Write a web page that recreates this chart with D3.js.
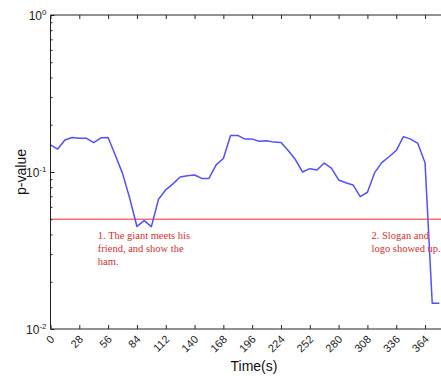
<!DOCTYPE html>
<html>
<head>
<meta charset="utf-8">
<script src="https://cdn.jsdelivr.net/npm/d3@7"></script>
<style>
  body { margin: 0; background: #fff; }
  svg { display: block; }
</style>
</head>
<body>
<div id="vis-holder"></div>
<script>
// Chart size and plot box
const width = 441;
const height = 376;
const margin = { top: 15, right: 0, bottom: 47, left: 50.5 };

// Data: time (s) and p-value
const times = [0, 7, 14, 21, 28, 35, 42, 49, 56, 63, 70, 77, 84, 91, 98, 105, 112, 119, 126, 133,
  140, 147, 154, 161, 168, 175, 182, 189, 196, 203, 210, 217, 224, 231, 238, 245, 252, 259, 266,
  273, 280, 287, 294, 301, 308, 315, 322, 329, 336, 343, 350, 357, 364, 371, 378];
const pValues = [0.149, 0.140, 0.160, 0.166, 0.164, 0.164, 0.154, 0.165, 0.166, 0.128, 0.098,
  0.068, 0.045, 0.049, 0.0449, 0.067, 0.077, 0.084, 0.093, 0.0945, 0.0957, 0.091, 0.091, 0.111,
  0.122, 0.171, 0.171, 0.162, 0.162, 0.157, 0.158, 0.155, 0.154, 0.137, 0.120, 0.100, 0.105,
  0.103, 0.114, 0.106, 0.089, 0.0855, 0.0827, 0.0697, 0.0743, 0.099, 0.1147, 0.125, 0.137,
  0.168, 0.162, 0.152, 0.1147, 0.0146, 0.0146];

const xTicks = [0, 28, 56, 84, 112, 140, 168, 196, 224, 252, 280, 308, 336, 364];
const yTicks = [0.01, 0.1, 1];
const yTickExp = ["-2", "-1", "0"];
const threshold = 0.05;

const notes = [
  { t: 46, lines: ["1. The giant meets his", "friend, and show the", "ham."] },
  { t: 312, lines: ["2. Slogan and", "logo showed up."] }
];

const svg = d3.select("#vis-holder")
  .append("svg")
  .attr("width", width)
  .attr("height", height);

const x = d3.scaleLinear()
  .domain([0, 380])
  .range([margin.left, width - margin.right + 0.5]);

const y = d3.scaleLog()
  .domain([0.01, 1])
  .range([height - margin.bottom, margin.top]);

const x0 = x.range()[0], x1 = x.range()[1];
const y0 = y.range()[0], y1 = y.range()[1];

// clip to the plot box
svg.append("clipPath").attr("id", "plotclip")
  .append("rect")
  .attr("x", x0).attr("y", y1)
  .attr("width", x1 - x0).attr("height", y0 - y1);

const plot = svg.append("g").attr("clip-path", "url(#plotclip)");

// significance line
plot.append("line")
  .attr("x1", x0).attr("x2", x1)
  .attr("y1", y(threshold)).attr("y2", y(threshold))
  .attr("stroke", "#ff6e6e")
  .attr("stroke-width", 1.7);

// p-value line
const line = d3.line()
  .x((d, i) => x(times[i]))
  .y((d) => y(d));

plot.append("path")
  .datum(pValues)
  .attr("d", line)
  .attr("fill", "none")
  .attr("stroke", "#5050ff")
  .attr("stroke-width", 1.5)
  .attr("stroke-linejoin", "round");

// annotations
notes.forEach((n) => {
  const txt = svg.append("text")
    .attr("x", x(n.t))
    .attr("y", y(threshold) + 20)
    .attr("fill", "#d03030")
    .attr("font-family", "'Liberation Serif', 'DejaVu Serif', serif")
    .attr("font-size", "10.5px");
  n.lines.forEach((l, i) => {
    txt.append("tspan")
      .attr("x", x(n.t))
      .attr("dy", i === 0 ? 0 : 13)
      .text(l);
  });
});

// axes, ticks pointing inward
const axisColor = "#222";
const fontSans = "'Liberation Sans', Arial, sans-serif";

// bottom axis
const gx = svg.append("g")
  .attr("transform", `translate(0,${y0})`)
  .call(d3.axisBottom(x).tickValues(xTicks).tickSizeInner(-4).tickSizeOuter(0));
gx.select(".domain").remove();
gx.selectAll("line").attr("stroke", axisColor);
gx.selectAll("text")
  .attr("font-family", fontSans)
  .attr("font-size", "11px")
  .attr("fill", "#222")
  .attr("text-anchor", "end")
  .attr("x", 0).attr("y", 0).attr("dy", 0)
  .attr("transform", "translate(4,11) rotate(-45)");

// top ticks
const gt = svg.append("g")
  .attr("transform", `translate(0,${y1})`)
  .call(d3.axisTop(x).tickValues(xTicks).tickSizeInner(-4).tickSizeOuter(0).tickFormat(""));
gt.select(".domain").remove();
gt.selectAll("line").attr("stroke", axisColor);

// left axis with minor ticks
const minor = [];
[0.01, 0.1].forEach((b) => { for (let k = 2; k <= 9; k++) minor.push(b * k); });

const gyMinor = svg.append("g")
  .attr("transform", `translate(${x0},0)`)
  .call(d3.axisLeft(y).tickValues(minor).tickSizeInner(-2).tickSizeOuter(0).tickFormat(""));
gyMinor.select(".domain").remove();
gyMinor.selectAll("line").attr("stroke", axisColor);

const gy = svg.append("g")
  .attr("transform", `translate(${x0},0)`)
  .call(d3.axisLeft(y).tickValues(yTicks).tickSizeInner(-4).tickSizeOuter(0).tickFormat(""));
gy.select(".domain").remove();
gy.selectAll("line").attr("stroke", axisColor);

// y tick labels as 10^n
gy.selectAll(".tick").each(function (d, i) {
  const t = d3.select(this).append("text")
    .attr("x", -4)
    .attr("y", 4)
    .attr("text-anchor", "end")
    .attr("fill", "#222")
    .attr("font-family", fontSans)
    .attr("font-size", "12px");
  t.append("tspan").text("10");
  t.append("tspan")
    .attr("dy", -5)
    .attr("font-size", "8px")
    .text(yTickExp[i]);
});

// spines
svg.append("path")
  .attr("d", `M${x0},${y0}V${y1}H${x1}`)
  .attr("fill", "none")
  .attr("stroke", axisColor)
  .attr("stroke-width", 1);
svg.append("line")
  .attr("x1", x0).attr("x2", x1)
  .attr("y1", y0).attr("y2", y0)
  .attr("stroke", axisColor)
  .attr("stroke-width", 1);

// axis titles
svg.append("text")
  .attr("x", (x0 + x1) / 2 + 8)
  .attr("y", 371)
  .attr("text-anchor", "middle")
  .attr("font-family", fontSans)
  .attr("font-size", "14px")
  .attr("fill", "#111")
  .text("Time(s)");

svg.append("text")
  .attr("transform", `translate(26,${y(0.1)}) rotate(-90)`)
  .attr("text-anchor", "middle")
  .attr("font-family", fontSans)
  .attr("font-size", "14px")
  .attr("fill", "#111")
  .text("p-value");
</script>
</body>
</html>
